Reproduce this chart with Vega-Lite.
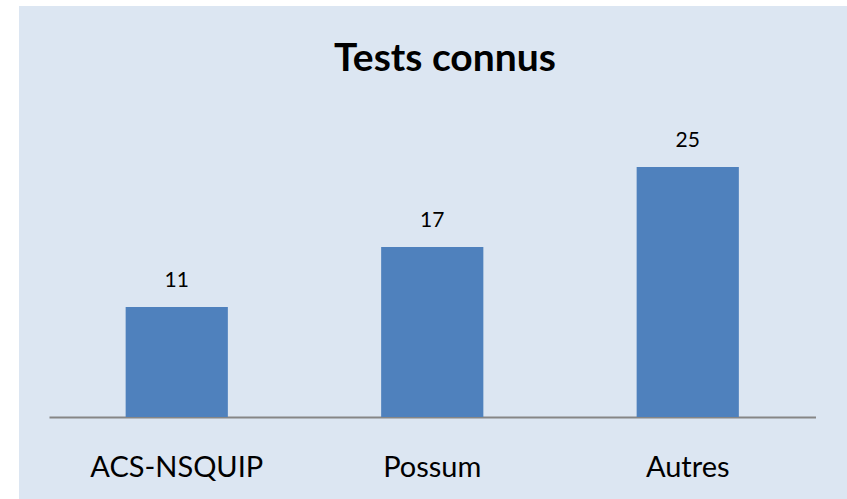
{
  "$schema": "https://vega.github.io/schema/vega-lite/v6.json",
  "autosize": "none",
  "width": 828,
  "height": 493,
  "padding": {"left": 19, "top": 6, "right": 0, "bottom": 0},
  "background": "white",
  "config": {
    "view": {"fill": "#DCE6F2", "stroke": null},
    "font": "Lato"
  },
  "title": {
    "text": "Tests connus",
    "font": "Lato",
    "fontSize": 39,
    "fontWeight": "bold",
    "color": "black",
    "anchor": "middle",
    "frame": "group",
    "baseline": "alphabetic",
    "offset": -65,
    "dy": 39,
    "dx": 12
  },
  "data": {
    "values": [
      {"test": "ACS-NSQUIP", "count": 11},
      {"test": "Possum", "count": 17},
      {"test": "Autres", "count": 25}
    ]
  },
  "encoding": {
    "x": {
      "field": "test",
      "type": "nominal",
      "sort": null,
      "scale": {"range": [30, 796.5], "paddingInner": 0.6, "paddingOuter": 0.3},
      "axis": {
        "title": null,
        "labelAngle": 0,
        "labelFont": "Lato",
        "labelFontSize": 29,
        "labelColor": "black",
        "labelBaseline": "alphabetic",
        "labelPadding": 59,
        "ticks": false,
        "tickSize": 0,
        "domainColor": "#868686",
        "domainWidth": 2,
        "offset": -82,
        "grid": false
      }
    },
    "y": {
      "field": "count",
      "type": "quantitative",
      "scale": {"domain": [0, 30], "range": [411, 111]},
      "axis": null
    }
  },
  "layer": [
    {"mark": {"type": "bar", "color": "#4F81BD"}},
    {
      "mark": {"type": "text", "baseline": "alphabetic", "dy": -20, "fontSize": 21, "font": "Lato", "color": "black"},
      "encoding": {"text": {"field": "count", "type": "quantitative"}}
    }
  ]
}
